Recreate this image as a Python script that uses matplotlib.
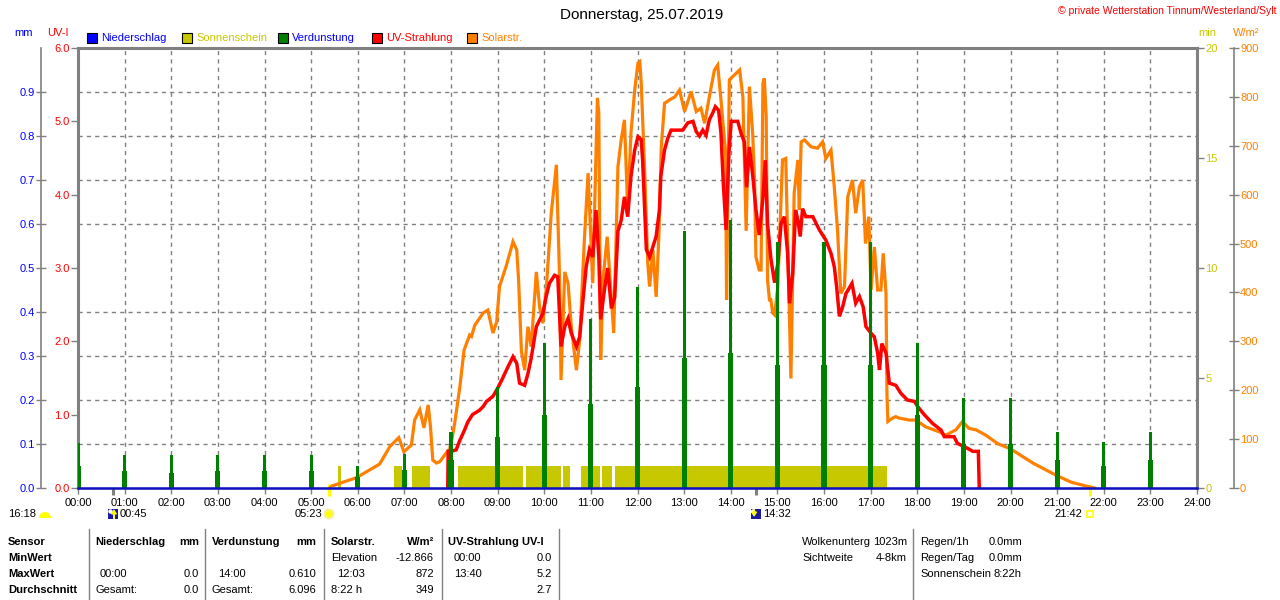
import numpy as np
import matplotlib
matplotlib.use('Agg')
import matplotlib.pyplot as plt
from matplotlib.patches import Rectangle, Circle, Polygon, Wedge
from matplotlib.lines import Line2D
from matplotlib.transforms import blended_transform_factory

plt.rcParams['font.family'] = ['Liberation Sans', 'DejaVu Sans']
plt.rcParams['font.size'] = 8

# ---------------- data ----------------
hour_labels = ["%02d:00" % h for h in range(25)]

solar_h = [5.40, 5.44, 5.97, 6.47, 6.69, 6.88, 6.99, 7.15, 7.22, 7.33, 7.42, 7.51, 7.56, 7.61,
           7.69, 7.76, 7.90, 7.97, 8.02, 8.08, 8.15, 8.19, 8.28, 8.40, 8.44, 8.51, 8.54, 8.69,
           8.79, 8.90, 8.98, 9.04, 9.19, 9.33, 9.41, 9.45, 9.51, 9.58, 9.65, 9.72, 9.83, 9.90,
           9.97, 10.05, 10.15, 10.26, 10.33, 10.36, 10.44, 10.51, 10.58, 10.69, 10.76, 10.86,
           10.94, 11.04, 11.14, 11.17, 11.21, 11.26, 11.35, 11.49, 11.58, 11.65, 11.72, 11.79,
           11.86, 11.94, 12.01, 12.05, 12.08, 12.15, 12.22, 12.26, 12.33, 12.40, 12.46, 12.51,
           12.58, 12.69, 12.80, 12.90, 13.01, 13.15, 13.26, 13.36, 13.44, 13.54, 13.65, 13.72,
           13.79, 13.89, 13.91, 13.97, 14.08, 14.19, 14.26, 14.33, 14.40, 14.47, 14.51, 14.54,
           14.61, 14.65, 14.69, 14.72, 14.76, 14.79, 14.83, 14.86, 14.90, 14.94, 15.01, 15.11,
           15.18, 15.24, 15.29, 15.36, 15.44, 15.47, 15.51, 15.58, 15.72, 15.86, 15.97, 16.04,
           16.15, 16.22, 16.29, 16.36, 16.44, 16.51, 16.61, 16.68, 16.76, 16.83, 16.89, 16.96,
           17.01, 17.08, 17.15, 17.22, 17.27, 17.33, 17.35, 17.37, 17.47, 17.54, 17.61, 17.83,
           17.97, 18.18, 18.47, 18.61, 18.83, 18.97, 19.11, 19.26, 19.47, 19.72, 20.00, 20.50,
           21.00, 21.30, 21.70, 21.80]
solar_w = [0, 4, 21, 49, 85, 103, 74, 88, 139, 160, 123, 170, 125, 57,
           51, 54, 72, 80, 100, 133, 180, 207, 282, 313, 310, 333, 337, 358,
           364, 317, 340, 412, 456, 504, 487, 425, 280, 241, 330, 289, 442, 370,
           337, 415, 562, 661, 425, 221, 442, 419, 330, 241, 303, 507,
           644, 419, 798, 767, 262, 425, 514, 317, 657, 712, 753, 569,
           726, 814, 869, 872, 828, 657, 460, 412, 487, 391, 521, 698,
           787, 794, 800, 814, 770, 811, 770, 777, 746, 800, 855, 865,
           794, 685, 385, 835, 845, 855, 800, 526, 821, 726, 630, 473,
           446, 446, 828, 838, 760, 425, 385, 385, 358, 354, 412, 671,
           674, 425, 224, 603, 671, 569, 708, 712, 698, 695, 708, 674,
           691, 616, 528, 398, 412, 596, 630, 562, 616, 630, 500, 555,
           405, 493, 405, 405, 480, 398, 194, 136, 143, 146, 143, 139,
           139, 125, 115, 108, 119, 136, 122, 119, 108, 91, 80, 50,
           25, 12, 2, 0]

uv_h = [7.93, 7.94, 8.00, 8.11, 8.19, 8.29, 8.36, 8.46, 8.61, 8.69, 8.76, 8.90, 9.00, 9.11,
        9.22, 9.33, 9.41, 9.47, 9.58, 9.65, 9.72, 9.83, 9.90, 9.97, 10.04, 10.11, 10.22,
        10.29, 10.36, 10.44, 10.51, 10.58, 10.69, 10.76, 10.83, 10.90, 10.97, 11.04, 11.11,
        11.17, 11.21, 11.29, 11.36, 11.44, 11.51, 11.58, 11.65, 11.72, 11.79, 11.86, 11.94,
        12.01, 12.08, 12.11, 12.19, 12.26, 12.33, 12.40, 12.47, 12.50, 12.58, 12.65, 12.72,
        12.97, 13.08, 13.19, 13.26, 13.33, 13.40, 13.47, 13.54, 13.61, 13.67, 13.74, 13.79,
        13.84, 13.90, 13.96, 14.01, 14.15, 14.22, 14.29, 14.34, 14.40, 14.47, 14.54, 14.61,
        14.69, 14.74, 14.79, 14.86, 14.94, 15.01, 15.08, 15.15, 15.22, 15.26, 15.33, 15.39,
        15.44, 15.49, 15.54, 15.61, 15.76, 15.90, 16.04, 16.15, 16.22, 16.27, 16.33, 16.40,
        16.47, 16.60, 16.68, 16.76, 16.84, 16.90, 17.01, 17.08, 17.15, 17.19, 17.24, 17.33,
        17.40, 17.54, 17.65, 17.79, 17.94, 18.01, 18.15, 18.33, 18.51, 18.58, 18.79, 18.86,
        19.08, 19.19, 19.31, 19.33]
uv_v = [0.0, 0.50, 0.50, 0.52, 0.65, 0.79, 0.90, 1.00, 1.06, 1.11, 1.18, 1.25, 1.36, 1.50,
        1.65, 1.79, 1.70, 1.43, 1.40, 1.56, 1.77, 2.20, 2.29, 2.38, 2.61, 2.79, 2.90,
        2.88, 1.93, 2.20, 2.31, 2.11, 1.93, 2.06, 2.56, 3.02, 3.25, 3.15, 3.79,
        3.15, 2.30, 2.70, 3.00, 2.45, 2.60, 3.50, 3.65, 3.97, 3.70, 4.25, 4.61,
        4.79, 4.75, 4.47, 3.25, 3.15, 3.29, 3.43, 3.79, 4.25, 4.61, 4.77, 4.88,
        4.88, 4.98, 5.00, 4.86, 4.80, 4.88, 4.81, 5.02, 5.11, 5.20, 5.15, 4.84,
        4.16, 3.52, 4.56, 5.00, 5.00, 4.84, 4.72, 4.10, 4.65, 4.27, 3.80, 3.45,
        3.95, 4.47, 3.60, 3.13, 2.80, 3.06, 3.61, 3.70, 3.20, 2.52, 2.93, 3.79,
        3.65, 3.43, 3.81, 3.70, 3.70, 3.52, 3.38, 3.20, 3.02, 2.75, 2.34, 2.47,
        2.65, 2.79, 2.52, 2.61, 2.47, 2.20, 2.11, 2.06, 1.84, 1.61, 1.97, 1.84,
        1.43, 1.40, 1.29, 1.20, 1.18, 1.11, 1.00, 0.88, 0.79, 0.70, 0.70, 0.61,
        0.54, 0.50, 0.50, 0.00]

evap_h = [0, 1, 2, 3, 4, 5, 6, 7, 8, 9, 10, 11, 12, 13, 14, 15, 16, 17, 18, 19, 20, 21, 22, 23]
evap_mm = [0.103, 0.075, 0.075, 0.075, 0.075, 0.075, 0.050, 0.077, 0.128, 0.230, 0.330, 0.384,
           0.457, 0.584, 0.610, 0.560, 0.560, 0.560, 0.330, 0.205, 0.205, 0.127, 0.105, 0.127]
evap_low = [0.050, 0.039, 0.035, 0.039, 0.039, 0.039, 0.025, 0.040, 0.064, 0.115, 0.166, 0.190,
            0.230, 0.295, 0.306, 0.280, 0.280, 0.280, 0.166, 0.100, 0.100, 0.064, 0.050, 0.064]

precip_h = [0, 1, 2, 3, 4, 5, 6, 7, 8, 9, 10, 11, 12, 13, 14, 15, 16, 17, 18, 19, 20, 21, 22, 23, 24]
precip_mm = [0.0, 0.0, 0.0, 0.0, 0.0, 0.0, 0.0, 0.0, 0.0, 0.0, 0.0, 0.0, 0.0,
             0.0, 0.0, 0.0, 0.0, 0.0, 0.0, 0.0, 0.0, 0.0, 0.0, 0.0, 0.0]

sun_start = [5.58, 6.78, 7.16, 8.15, 9.60, 10.41, 10.79, 11.24, 11.51]
sun_end = [5.65, 6.94, 7.56, 9.54, 10.36, 10.56, 11.20, 11.46, 17.36]
sun_min = [1.0, 1.0, 1.0, 1.0, 1.0, 1.0, 1.0, 1.0, 1.0]

moon_events_h = [0.75, 14.533]       # moonrise 00:45, moonset 14:32
moon_events_lbl = ["00:45", "14:32"]
sun_events_h = [5.383, 21.70]        # sunrise 05:23, sunset 21:42
sun_events_lbl = ["05:23", "21:42"]

# ---------------- colours ----------------
GRAY = '#808080'
BLUE = '#0000ff'
RED = '#ff0000'
OLIVE = '#c8c800'
ORANGE = '#ff8000'
GREEN = '#008000'
NAVY = '#1a1aa0'
YEL = '#ffff00'

W, H = 1280, 600
fig = plt.figure(figsize=(12.8, 6.0), dpi=100)


def fx(px):
    return px / W


def fy(py):
    return 1 - py / H


# pixel helpers in inches (keeps icons round)
def ix(px):
    return px / 100.0


def iy(py):
    return (H - py) / 100.0


PT = fig.dpi_scale_trans

L, R, T, B = 78, 1197, 48, 488
ax_sun = fig.add_axes([fx(L), fy(B), (R - L) / W, (B - T) / H])
ax_sol = ax_sun.twinx()
ax_uv = ax_sun.twinx()
ax_mm = ax_sun.twinx()

# base axis: sunshine minutes (right, at frame), grid, x axis
ax_sun.set_xlim(0, 24)
ax_sun.set_ylim(0, 20)
ax_sun.yaxis.tick_right()
ax_sun.set_yticks([0, 5, 10, 15, 20])
ax_sun.set_yticklabels(['0', '5', '10', '15', '20'])
ax_sun.set_yticks(np.arange(0, 21, 2), minor=True)
ax_sun.tick_params(axis='y', which='major', direction='out', length=5, width=1,
                   color=GRAY, labelcolor=OLIVE, labelsize=8, pad=1)
ax_sun.tick_params(axis='y', which='minor', length=0)
ax_sun.set_xticks(range(25))
ax_sun.set_xticklabels(hour_labels)
ax_sun.tick_params(axis='x', direction='out', length=4, width=1, color=GRAY,
                   labelsize=8, pad=3)
ax_sun.yaxis.grid(True, which='minor', color=GRAY, ls=(0, (3, 3)), lw=1)
ax_sun.yaxis.grid(False, which='major')
ax_sun.xaxis.grid(True, which='major', color=GRAY, ls=(0, (3, 3)), lw=1)
ax_sun.set_axisbelow(True)
for side, lw in [('left', 2.2), ('top', 2.2), ('right', 2.2), ('bottom', 1)]:
    ax_sun.spines[side].set_color(GRAY)
    ax_sun.spines[side].set_linewidth(lw)
ax_sun.bar(sun_start, sun_min, width=np.subtract(sun_end, sun_start), align='edge',
           color=OLIVE, lw=0, zorder=2)

# solar radiation axis (outer right)
ax_sol.set_ylim(0, 900)
ax_sol.set_yticks(range(0, 901, 100))
for s in ax_sol.spines.values():
    s.set_visible(False)
ax_sol.spines['right'].set_visible(True)
ax_sol.spines['right'].set_position(('outward', 26.5))
ax_sol.spines['right'].set_color(GRAY)
ax_sol.spines['right'].set_linewidth(1.2)
ax_sol.tick_params(axis='y', direction='inout', length=7, width=1, color=GRAY,
                   labelcolor=ORANGE, labelsize=8, pad=1)
ax_sol.plot(solar_h, solar_w, color=ORANGE, lw=2.3, solid_joinstyle='miter')

# UV axis (left, at frame)
ax_uv.set_ylim(0, 6)
ax_uv.yaxis.tick_left()
ax_uv.set_yticks(range(7))
ax_uv.set_yticklabels(["%.1f" % v for v in range(7)])
for s in ax_uv.spines.values():
    s.set_visible(False)
ax_uv.tick_params(axis='y', direction='out', length=5, width=1, color=GRAY,
                  labelcolor=RED, labelsize=8, pad=1)
ax_uv.plot(uv_h, uv_v, color=RED, lw=2.5, solid_joinstyle='miter')

# mm axis (outer left)
ax_mm.set_ylim(0, 1.0)
ax_mm.yaxis.tick_left()
mm_ticks = [0.0, 0.1, 0.2, 0.3, 0.4, 0.5, 0.6, 0.7, 0.8, 0.9]
ax_mm.set_yticks(mm_ticks)
ax_mm.set_yticklabels(["%.1f" % v for v in mm_ticks])
for s in ax_mm.spines.values():
    s.set_visible(False)
ax_mm.spines['left'].set_visible(True)
ax_mm.spines['left'].set_position(('outward', 26.5))
ax_mm.spines['left'].set_color(GRAY)
ax_mm.spines['left'].set_linewidth(1.2)
ax_mm.tick_params(axis='y', direction='inout', length=7, width=1, color=GRAY,
                  labelcolor=BLUE, labelsize=8, pad=1)
ax_mm.bar(evap_h, evap_low, width=0.11, color=GREEN, lw=0)
ax_mm.bar(evap_h, evap_mm, width=0.066, color=GREEN, lw=0)
ax_mm.plot(precip_h, precip_mm, color='#1010c0', lw=1.8, drawstyle='steps-post', clip_on=False)

# event marks below the axis
btr = blended_transform_factory(ax_sun.transData, ax_sun.transAxes)
ax_sun.vlines(moon_events_h, -7 / 440, 0, transform=btr, colors=GRAY, lw=2.2, clip_on=False)
ax_sun.vlines(sun_events_h, -8 / 440, 4 / 440, transform=btr, colors=YEL, lw=2.2,
              clip_on=False)

# moon events: icon + time text
for i, (h, lbl) in enumerate(zip(moon_events_h, moon_events_lbl)):
    ax_sun.annotate(lbl, xy=(h, 0), xycoords=('data', 'axes fraction'),
                    xytext=(7, -26), textcoords='offset pixels', ha='left', va='center',
                    fontsize=8)
    px = L + h / 24 * (R - L)
    fig.patches.append(Rectangle((ix(px - 5), iy(519)), 0.10, 0.10, transform=PT,
                                 facecolor=NAVY, edgecolor='none'))
    fig.patches.append(Circle((ix(px - 2.5), iy(511.5)), 0.022, transform=PT,
                              facecolor='white', edgecolor='none'))
    if i == 0:
        tri = [(px - 1.5, 514), (px + 3.5, 514), (px + 1, 510)]
        stem = (px, 513, 2, 6)
    else:
        tri = [(px - 4, 512), (px + 1, 512), (px - 1.5, 516)]
        stem = (px - 2.5, 509, 2, 4)
    fig.patches.append(Polygon([(ix(a), iy(b)) for a, b in tri], closed=True,
                               transform=PT, facecolor=YEL, edgecolor=YEL, lw=0.8))
    fig.patches.append(Rectangle((ix(stem[0]), iy(stem[1] + stem[3])), stem[2] / 100,
                                 stem[3] / 100, transform=PT, facecolor=YEL,
                                 edgecolor='none'))

# sun events
for i, (h, lbl) in enumerate(zip(sun_events_h, sun_events_lbl)):
    ax_sun.annotate(lbl, xy=(h, 0), xycoords=('data', 'axes fraction'),
                    xytext=(-7, -26), textcoords='offset pixels', ha='right', va='center',
                    fontsize=8)
    px = L + h / 24 * (R - L)
    if i == 0:
        fig.patches.append(Circle((ix(px), iy(514)), 0.045, transform=PT,
                                  facecolor=YEL, edgecolor='#f4f0a0', lw=1.5))
    else:
        fig.patches.append(Rectangle((ix(px - 3), iy(517)), 0.06, 0.06,
                                     transform=PT, facecolor='white',
                                     edgecolor=YEL, lw=1.2))

# left day-length / moon phase label
fig.text(fx(8), fy(514), "16:18", ha='left', va='center', fontsize=8)
fig.patches.append(Wedge((ix(45), iy(518)), 0.06, 0, 180, transform=PT,
                         facecolor=YEL, edgecolor='none'))

# ---------------- header texts ----------------
fig.text(fx(642), fy(15), "Donnerstag, 25.07.2019", ha='center', va='center', fontsize=11)
fig.text(fx(1276), fy(11), "\u00a9 private Wetterstation Tinnum/Westerland/Sylt",
         ha='right', va='center', fontsize=7.5, color=RED)
fig.text(fx(14), fy(33), "mm", ha='left', va='center', fontsize=8, color=BLUE)
fig.text(fx(47), fy(33), "UV-I", ha='left', va='center', fontsize=8, color=RED)
fig.text(fx(1198), fy(33), "min", ha='left', va='center', fontsize=8, color=OLIVE)
fig.text(fx(1233), fy(33), "W/m\u00b2", ha='left', va='center', fontsize=8, color=ORANGE)

legend_items = [("Niederschlag", BLUE, BLUE, 87), ("Sonnenschein", OLIVE, OLIVE, 182),
                ("Verdunstung", GREEN, BLUE, 278), ("UV-Strahlung", RED, RED, 372),
                ("Solarstr.", ORANGE, ORANGE, 467)]
for lbl, c, tc, x0 in legend_items:
    fig.patches.append(Rectangle((fx(x0), fy(43)), 10 / W, 10 / H, transform=fig.transFigure,
                                 facecolor=c, edgecolor='black', lw=0.8))
    fig.text(fx(x0 + 14), fy(38), lbl, ha='left', va='center', fontsize=8, color=tc)

# ---------------- table ----------------
rows_y = [542, 558, 574, 590]
table_cells = [
    ("Sensor", 8, 0, 'left', True), ("MinWert", 8, 1, 'left', True),
    ("MaxWert", 8, 2, 'left', True), ("Durchschnitt", 8, 3, 'left', True),
    ("Niederschlag", 95, 0, 'left', True), ("mm", 199, 0, 'right', True),
    ("00:00", 100, 2, 'left', False), ("0.0", 199, 2, 'right', False),
    ("Gesamt:", 95, 3, 'left', False), ("0.0", 199, 3, 'right', False),
    ("Verdunstung", 212, 0, 'left', True), ("mm", 316, 0, 'right', True),
    ("14:00", 218, 2, 'left', False), ("0.610", 316, 2, 'right', False),
    ("Gesamt:", 212, 3, 'left', False), ("6.096", 316, 3, 'right', False),
    ("Solarstr.", 331, 0, 'left', True), ("W/m\u00b2", 434, 0, 'right', True),
    ("Elevation", 331, 1, 'left', False), ("-12.866", 434, 1, 'right', False),
    ("12:03", 337, 2, 'left', False), ("872", 434, 2, 'right', False),
    ("8:22 h", 331, 3, 'left', False), ("349", 434, 3, 'right', False),
    ("UV-Strahlung UV-I", 448, 0, 'left', True),
    ("00:00", 454, 1, 'left', False), ("0.0", 552, 1, 'right', False),
    ("13:40", 454, 2, 'left', False), ("5.2", 552, 2, 'right', False),
    ("2.7", 552, 3, 'right', False),
    ("Wolkenunterg", 802, 0, 'left', False), ("1023m", 907, 0, 'right', False),
    ("Sichtweite", 802, 1, 'left', False), ("4-8km", 907, 1, 'right', False),
    ("Regen/1h", 920, 0, 'left', False), ("0.0mm", 1022, 0, 'right', False),
    ("Regen/Tag", 920, 1, 'left', False), ("0.0mm", 1022, 1, 'right', False),
    ("Sonnenschein", 920, 2, 'left', False), ("8:22h", 1022, 2, 'right', False),
]
for txt, x0, r, ha, bold in table_cells:
    fig.text(fx(x0), fy(rows_y[r]), txt, ha=ha, va='center', fontsize=8,
             fontweight='bold' if bold else 'normal')

for xd in [89, 205, 324, 442, 559, 913]:
    fig.add_artist(Line2D([fx(xd), fx(xd)], [fy(529), fy(600)], transform=fig.transFigure,
                          color=GRAY, lw=1))

fig.savefig('out.png', dpi=100, facecolor='white')
